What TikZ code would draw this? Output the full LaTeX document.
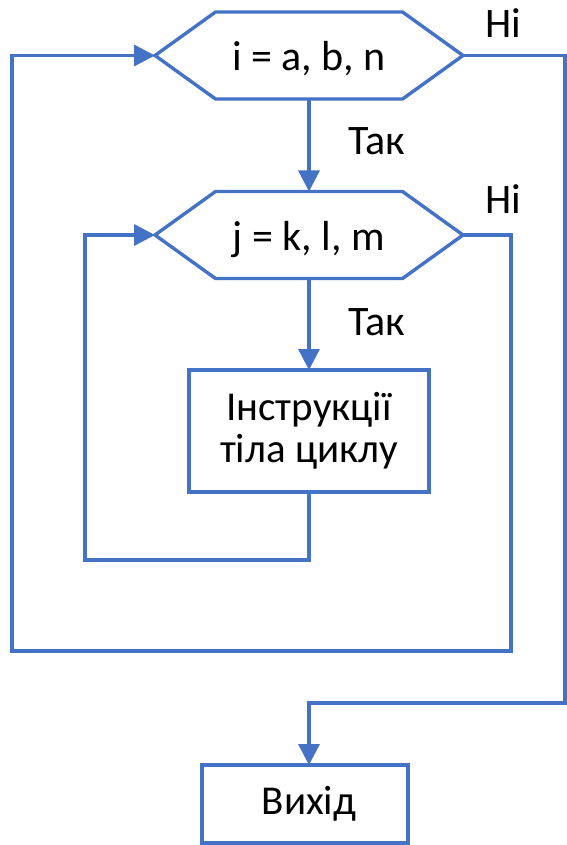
\documentclass[tikz,border=0pt]{standalone}
\usepackage{fontspec}
\setmainfont{Carlito}
\usetikzlibrary{arrows.meta}
\definecolor{obl}{HTML}{4472C4}
\tikzset{
  ln/.style={draw=obl, line width=3.4pt, line join=miter},
  arr/.style={ln, -{Triangle[length=21pt,width=21pt]}},
  hexnode/.style={minimum width=308pt, minimum height=87pt, inner sep=0pt, outer sep=0pt,
     font=\fontsize{42}{42}\selectfont, text height=30pt, text depth=0pt},
  boxnode/.style={ln, inner sep=0pt, outer sep=0pt, align=center,
     font=\fontsize{41}{42}\selectfont},
  lbl/.style={anchor=base west, inner sep=0pt, font=\fontsize{42}{42}\selectfont}
}
\begin{document}
\begin{tikzpicture}[x=1pt,y=-1pt]
\useasboundingbox (0,0) rectangle (566,845);
% nodes
\node[hexnode] (h1) at (309,55.5) {i = a, b, n};
\node[hexnode] (h2) at (309,235) {j = k, l, m};
\node[boxnode, minimum width=240pt, minimum height=122pt] (b) at (309,431) {Інструкції\\тіла циклу};
\node[boxnode, minimum width=206pt, minimum height=78pt] (e) at (305,804) {\hspace*{8pt}Вихід};
% hexagon outlines
\foreach \h in {h1,h2}{
  \draw[ln] (\h.west) -- ([xshift=60.5pt]\h.north west) -- ([xshift=-60.5pt]\h.north east)
    -- (\h.east) -- ([xshift=-60.5pt]\h.south east) -- ([xshift=60.5pt]\h.south west) -- cycle;
}
% labels
\node[lbl] (t1) at (348,155) {Так};
\node[lbl] (t2) at (348,335) {Так};
\node[lbl] (n1) at (485,38) {Ні};
\node[lbl] (n2) at (485,213) {Ні};
% helper coordinates
\coordinate (ib) at (85,560);
\coordinate (or) at (511,651);
\coordinate (ol) at (12,651);
\coordinate (xr) at (565,703);
\coordinate (xa) at (309,703);
% connectors
\draw[arr] (h1.south) -- (h2.north);
\draw[arr] (h2.south) -- (b.north);
\draw[arr] (b.south) |- (ib) |- (h2.west);
\draw[arr] (h2.east) -| (or) -- (ol) |- (h1.west);
\draw[arr] (h1.east) -| (xr) -- (xa) -- (xa |- e.north);
\end{tikzpicture}
\end{document}
